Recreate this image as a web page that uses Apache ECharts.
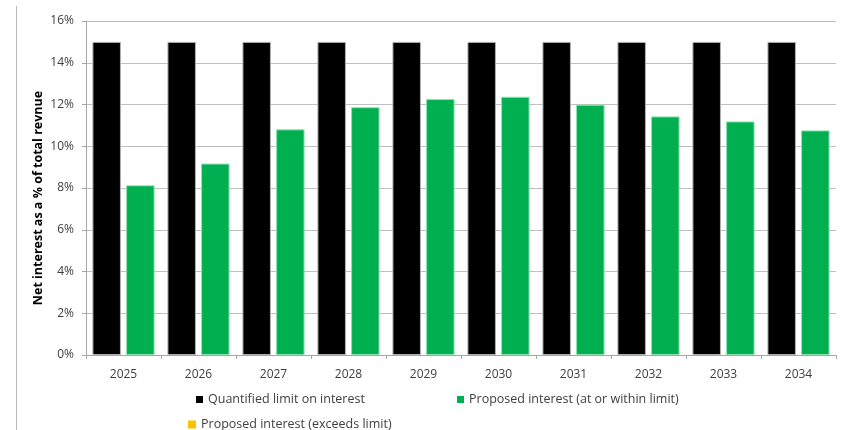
<!DOCTYPE html>
<html>
<head>
<meta charset="utf-8">
<script src="https://cdn.jsdelivr.net/npm/echarts@6/dist/echarts.min.js"></script>
<style>
  html, body { margin: 0; padding: 0; background: #fff; }
  #chart { width: 845px; height: 430px; }
</style>
</head>
<body>
<div id="chart"></div>
<script>
// Fiscal years on the category axis
const years = ['2025', '2026', '2027', '2028', '2029', '2030', '2031', '2032', '2033', '2034'];
// Quantified limit on net interest (% of total revenue)
const limitValues = [15, 15, 15, 15, 15, 15, 15, 15, 15, 15];
// Proposed net interest that sits at or within the limit
const withinValues = [8.13, 9.17, 10.81, 11.87, 12.26, 12.37, 11.99, 11.43, 11.19, 10.76];
// Proposed net interest above the limit (none in this period)
const exceedsValues = [null, null, null, null, null, null, null, null, null, null];
// Y-axis tick labels
const yTicks = [0, 2, 4, 6, 8, 10, 12, 14, 16];

const seriesNames = [
  'Quantified limit on interest',
  'Proposed interest (at or within limit)',
  'Proposed interest (exceeds limit)'
];

const font = '"Open Sans", "Liberation Sans", Arial, sans-serif';
const legendText = { color: '#404040', fontSize: 12.5, fontFamily: font };
const legendIcon = { borderWidth: 0 };

const chart = echarts.init(document.getElementById('chart'), null, { renderer: 'canvas' });

chart.setOption({
  animation: false,
  backgroundColor: '#ffffff',
  grid: { left: 86, right: 9, top: 21, bottom: 75, containLabel: false },
  legend: [
    {
      data: [seriesNames[0]], left: 196, top: 393, padding: 0, icon: 'rect',
      itemWidth: 7, itemHeight: 7, itemGap: 4, itemStyle: legendIcon,
      textStyle: legendText, selectedMode: false
    },
    {
      data: [seriesNames[1]], left: 457, top: 393, padding: 0, icon: 'rect',
      itemWidth: 7, itemHeight: 7, itemGap: 4, itemStyle: legendIcon,
      textStyle: legendText, selectedMode: false
    },
    {
      data: [seriesNames[2]], left: 188, top: 418, padding: 0, icon: 'rect',
      itemWidth: 8, itemHeight: 8, itemGap: 4, itemStyle: legendIcon,
      textStyle: legendText, selectedMode: false
    }
  ],
  xAxis: {
    type: 'category',
    data: years,
    axisLine: { show: true, lineStyle: { color: '#a6a6a6', width: 1 } },
    axisTick: { show: true, alignWithLabel: false, length: 4, lineStyle: { color: '#a6a6a6' } },
    axisLabel: { color: '#404040', fontSize: 12, fontFamily: font, margin: 14 },
    splitLine: { show: false }
  },
  yAxis: {
    type: 'value',
    min: 0,
    max: 16,
    interval: 2,
    axisLine: { show: true, lineStyle: { color: '#a6a6a6', width: 1 } },
    axisTick: { show: true, length: 4, inside: false, lineStyle: { color: '#a6a6a6' } },
    axisLabel: {
      color: '#404040', fontSize: 12, fontFamily: font, margin: 12,
      formatter: v => (yTicks.indexOf(v) >= 0 ? v + '%' : '')
    },
    splitLine: { show: true, lineStyle: { color: '#c0c0c0', width: 1 } }
  },
  series: [
    {
      name: seriesNames[0],
      type: 'bar',
      data: limitValues,
      barWidth: 28.5,
      barGap: '18%',
      itemStyle: { color: '#000000', borderColor: '#b0b0b0', borderWidth: 1 }
    },
    {
      name: seriesNames[1],
      type: 'bar',
      stack: 'proposed',
      data: withinValues,
      barWidth: 28.5,
      itemStyle: { color: '#00b050', borderColor: '#8fe0b0', borderWidth: 1 }
    },
    {
      name: seriesNames[2],
      type: 'bar',
      stack: 'proposed',
      data: exceedsValues,
      barWidth: 28.5,
      itemStyle: { color: '#ffc000' }
    }
  ],
  graphic: [
    {
      type: 'line',
      shape: { x1: 16.5, y1: 6, x2: 16.5, y2: 430 },
      style: { stroke: '#b8b8b8', lineWidth: 1 },
      silent: true
    },
    {
      type: 'text',
      x: 38,
      y: 198,
      rotation: Math.PI / 2,
      style: {
        text: 'Net interest as a % of total revnue',
        fill: '#000000',
        font: 'bold 12.5px ' + font,
        align: 'center',
        verticalAlign: 'middle'
      },
      silent: true
    }
  ]
});
</script>
</body>
</html>
